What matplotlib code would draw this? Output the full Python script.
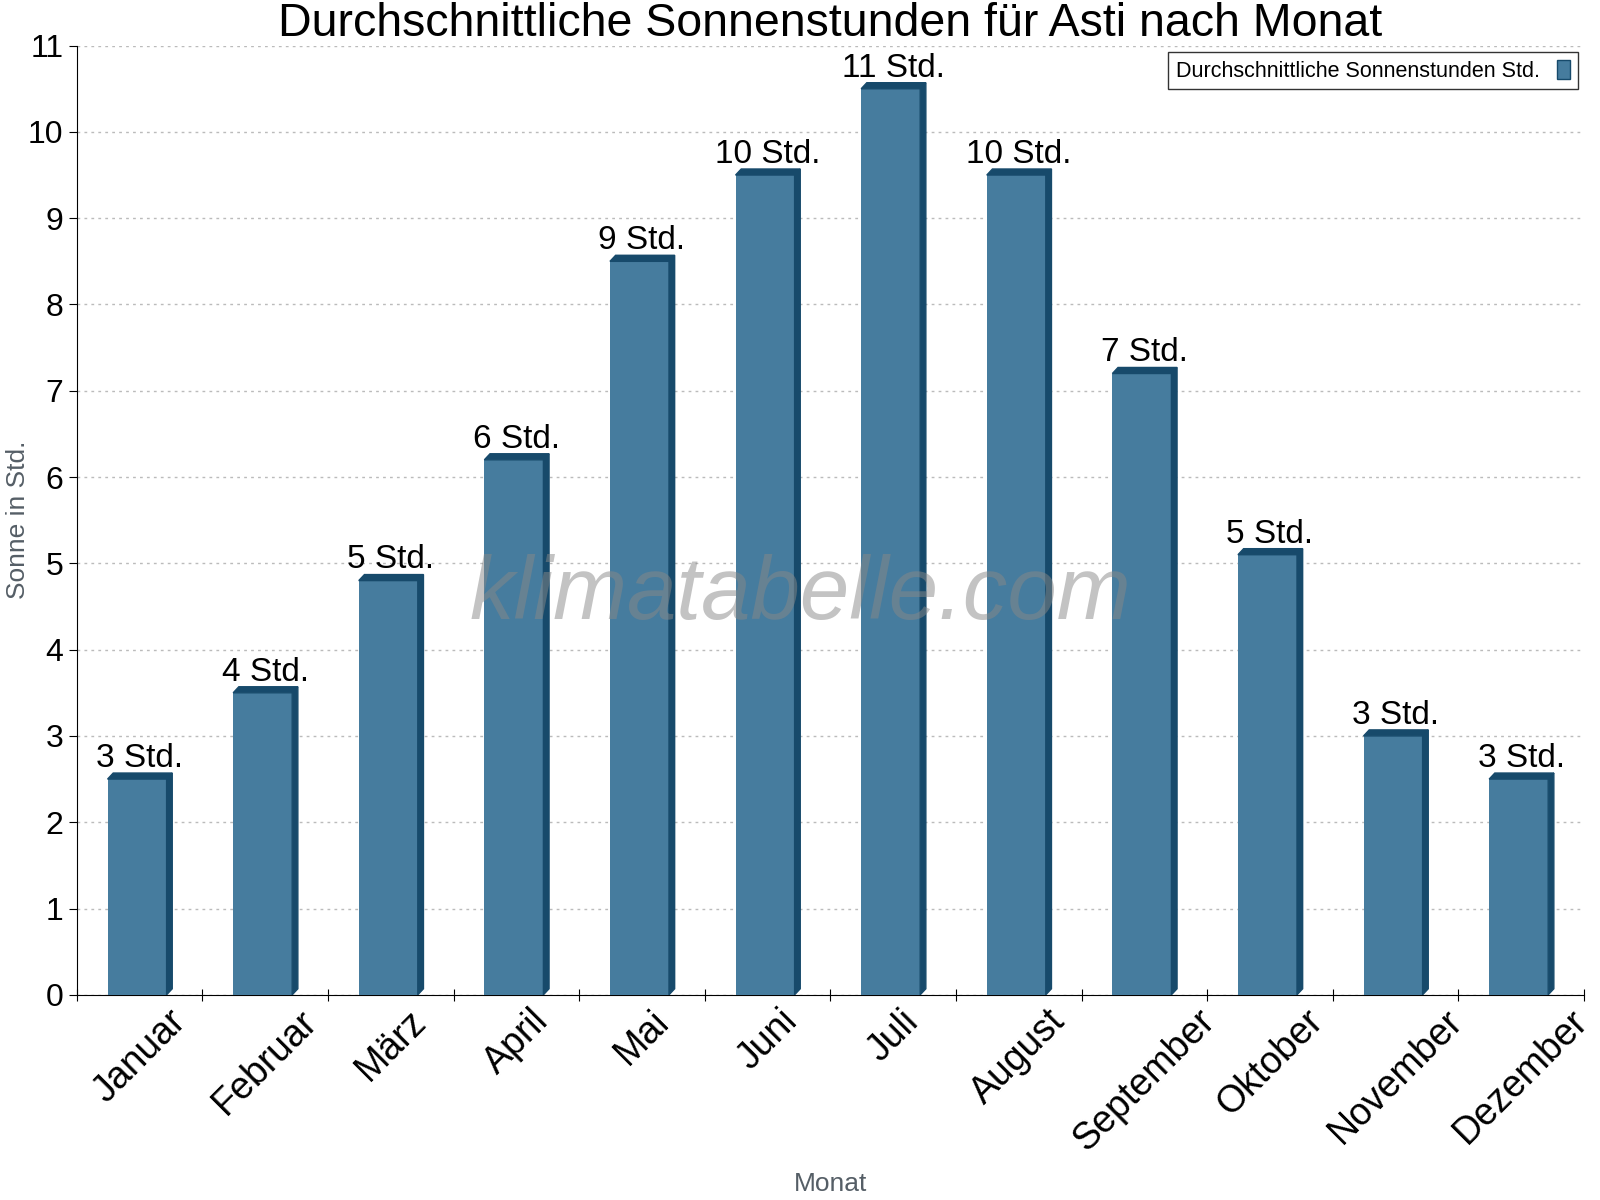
import matplotlib.pyplot as plt
import numpy as np
from matplotlib.patches import Polygon, Patch

plt.rcParams['font.family'] = ['Liberation Sans', 'DejaVu Sans']

months = ['Januar', 'Februar', 'März', 'April', 'Mai', 'Juni', 'Juli',
          'August', 'September', 'Oktober', 'November', 'Dezember']
sun_hours = [2.5, 3.5, 4.8, 6.2, 8.5, 9.5, 10.5, 9.5, 7.2, 5.1, 3.0, 2.5]
bar_labels = ['3 Std.', '4 Std.', '5 Std.', '6 Std.', '9 Std.', '10 Std.', '11 Std.',
              '10 Std.', '7 Std.', '5 Std.', '3 Std.', '3 Std.']

FACE = '#467c9e'
DARK = '#174a6b'

fig = plt.figure(figsize=(16, 12), dpi=100)
ax = fig.add_axes([0.048, 0.171, 0.942, 0.791])

x = np.arange(len(months))
width = 0.47
dx = 0.045   # 3d depth in category units
dy = 0.07    # 3d depth in data units

ax.bar(x - 0.02, sun_hours, width=width, color=FACE, zorder=3, label='_nolegend_')
for xi, h, lab in zip(x, sun_hours, bar_labels):
    x0 = xi - 0.02 - width / 2
    x1 = xi - 0.02 + width / 2
    top = Polygon([(x0, h), (x0 + dx, h + dy), (x1 + dx, h + dy), (x1, h)],
                  closed=True, color=DARK, zorder=3)
    side = Polygon([(x1, 0), (x1 + dx, dy), (x1 + dx, h + dy), (x1, h)],
                   closed=True, color=DARK, zorder=3)
    ax.add_patch(top)
    ax.add_patch(side)
    ax.text(xi, h + 0.06, lab, ha='center', va='bottom', fontsize=24, zorder=4)

ax.set_xlim(-0.5, len(months) - 0.5)
ax.set_ylim(0, 11)
ax.set_yticks(range(0, 12))
ax.tick_params(axis='y', labelsize=23, length=6, direction='out')

ax.set_xticks(list(x - 0.5) + [len(months) - 0.5])
ax.set_xticklabels([])
ax.set_xticks(x, minor=True)
ax.set_xticklabels(months, minor=True, rotation=45, fontsize=27, ha='center')
ax.tick_params(axis='x', which='major', length=8, direction='inout')
ax.tick_params(axis='x', which='minor', length=0, pad=6)

ax.grid(axis='y', linestyle=(0, (2, 3)), color='#bbbbbb', linewidth=1, zorder=0)
for s in ['top', 'right']:
    ax.spines[s].set_visible(False)

ax.set_ylabel('Sonne in Std.', fontsize=19, color='#555e66')
ax.yaxis.set_label_coords(-0.031, 0.5)
ax.set_xlabel('Monat', fontsize=19, color='#555e66', labelpad=10)
ax.set_title('Durchschnittliche Sonnenstunden für Asti nach Monat', fontsize=33.5, pad=2)

ax.text(0.48, 0.42, 'klimatabelle.com', transform=ax.transAxes, fontsize=64,
        style='italic', color='#888888', alpha=0.5, ha='center', va='center', zorder=5)

handle = Patch(facecolor=FACE, edgecolor=DARK)
leg = ax.legend([handle], ['Durchschnittliche Sonnenstunden Std.'], loc='upper right',
                fontsize=15.5, markerfirst=False, frameon=True, fancybox=False,
                handlelength=0.6, handleheight=1.0, borderaxespad=0.3,
                borderpad=0.35)
leg.get_frame().set_edgecolor('black')
leg.get_frame().set_linewidth(1)

fig.savefig('out.png', dpi=100)
